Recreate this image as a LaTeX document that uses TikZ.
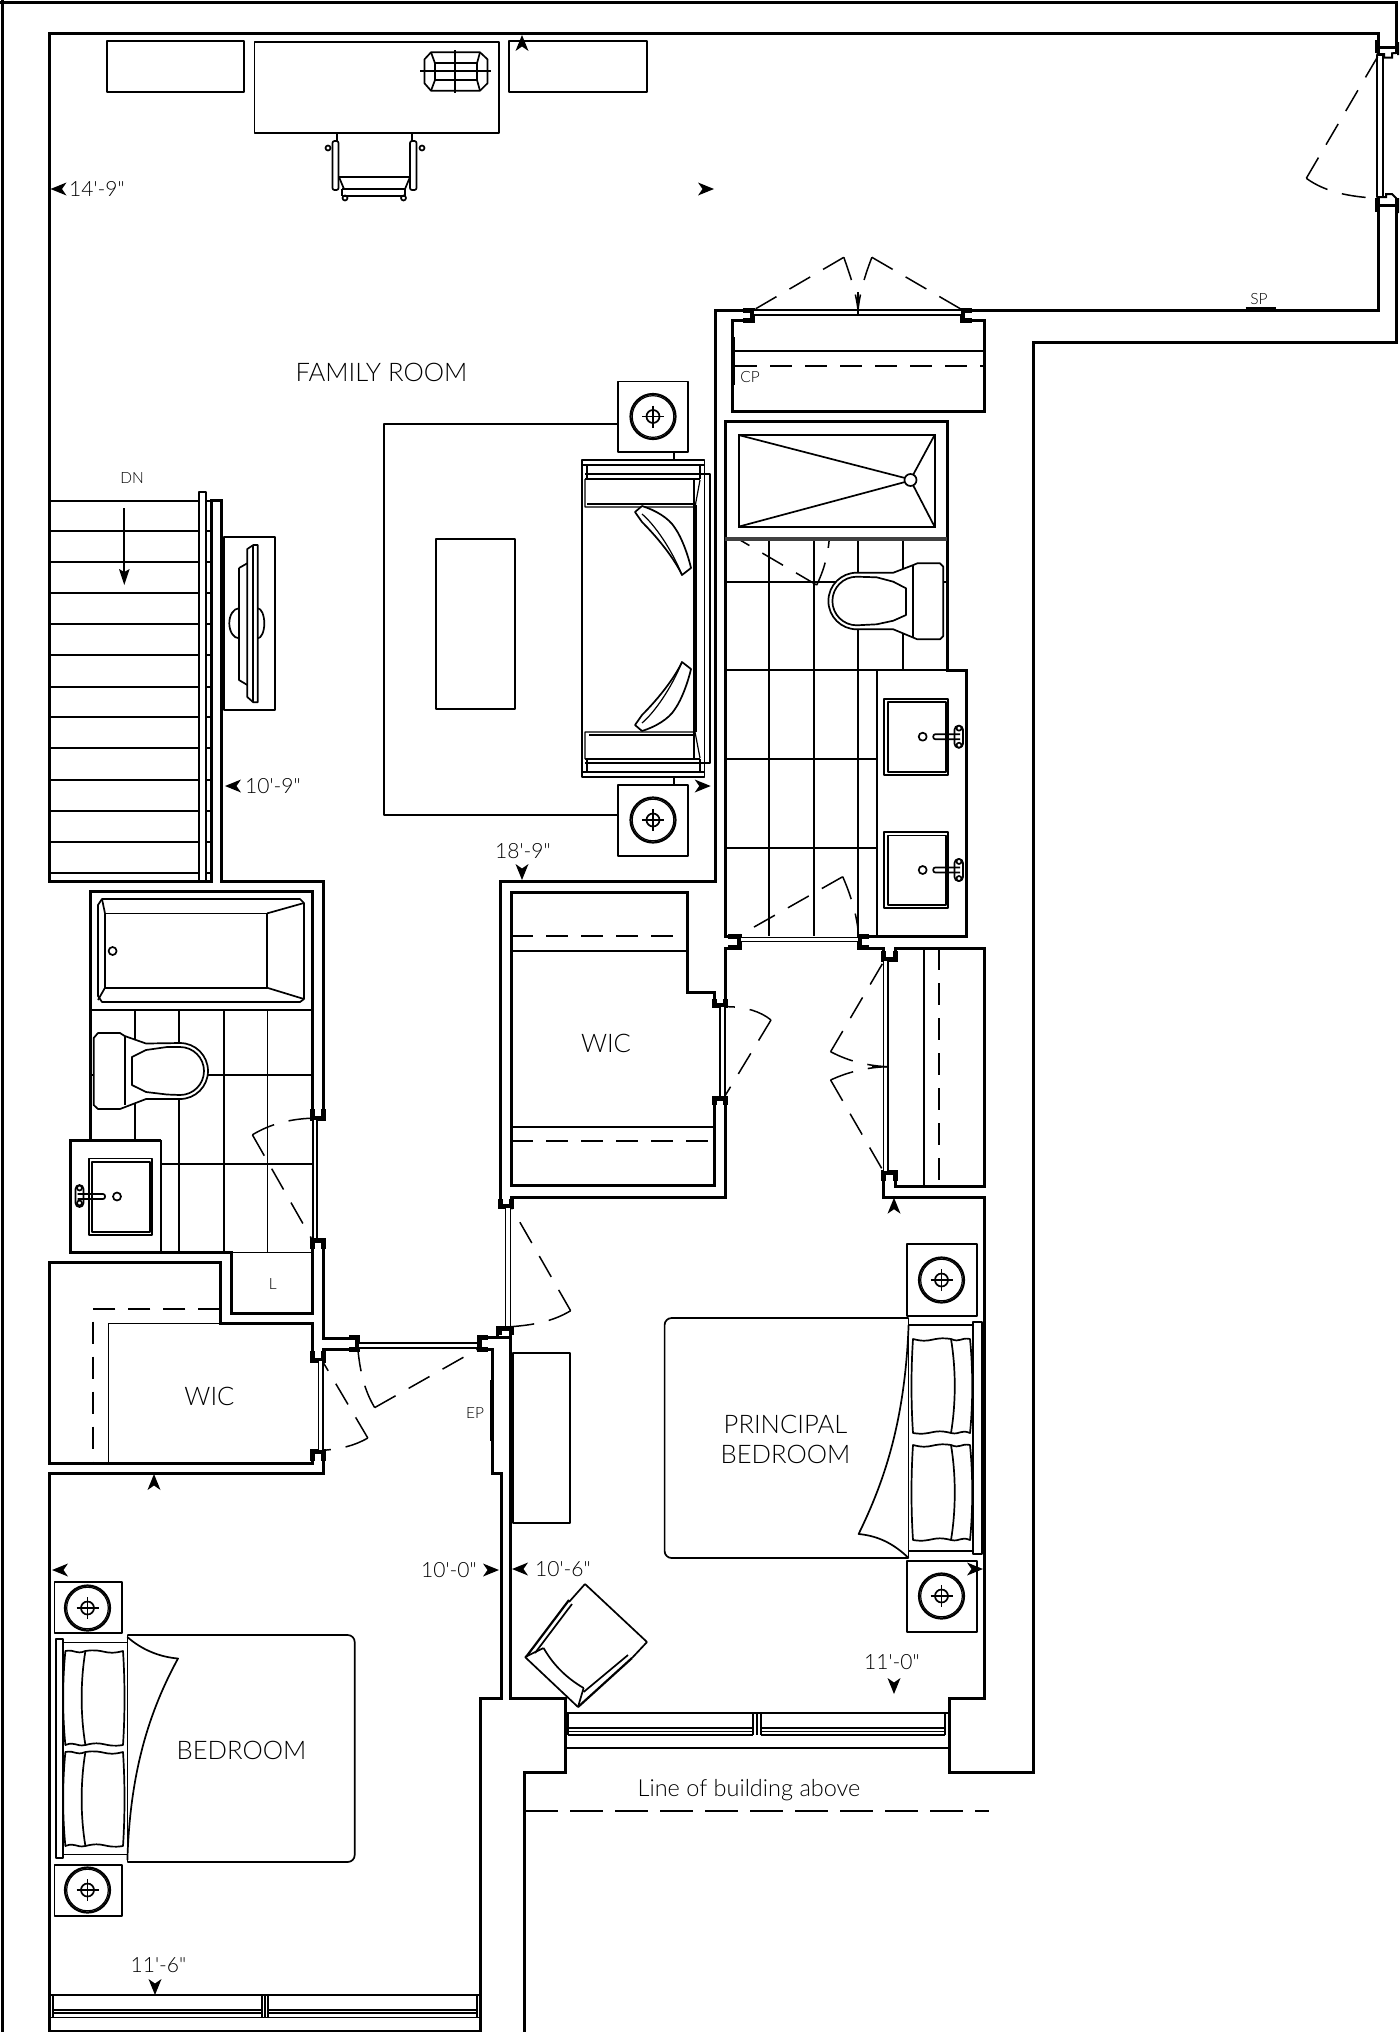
\documentclass[tikz,border=0pt]{standalone}
\usepackage{fontspec}
\newfontfamily\ltf{Lato}[UprightFont=* Light]
\tikzset{
 wall/.style={line width=3pt,line join=miter},
 jamb/.style={line width=5pt,line join=miter},
 fine/.style={line width=1.7pt,line join=round},
 thin/.style={line width=1.2pt,line join=round},
 dashline/.style={line width=1.5pt,dash pattern=on 22pt off 13pt},
 swing/.style={line width=1.5pt,dash pattern=on 24pt off 15pt},
 lbl/.style={inner sep=0pt,text=black,font=\ltf\fontsize{21}{21}\selectfont},
 lblwide/.style={inner sep=0pt,text=black,font=\ltf\fontsize{23.5}{23.5}\selectfont},
 room/.style={inner sep=0pt,text=black,align=center,font=\ltf\fontsize{25.6}{30}\selectfont},
 small/.style={inner sep=0pt,text=black,font=\ltf\fontsize{15.5}{15.5}\selectfont},
}
\newcommand\dimarrow[3]{\fill[shift={(#1,#2)},rotate=#3] (0,0)--(-16,-6.5)--(-11.5,0)--(-16,6.5)--cycle;}
\newcommand\sidetable[6]{%
 \draw[fine] (#1,#2) rectangle (#3,#4);
 \draw[line width=2.2pt] (#5,#6) circle (22.5);
 \draw[thin] (#5,#6) circle (20.8);
 \draw[fine] (#5,#6) circle (6.5);
 \draw[fine] ({#5-11},#6)--({#5+11},#6) (#5,{#6-11})--(#5,{#6+11});}
\newcommand\doorlines[4]{\draw[thin,fill=white] (#1,#2) rectangle (#3,#4);}
\newcommand\pillowpair[6]{%
 \draw[fine] (#1,#4) .. controls ({(#1+#2)/2},{#4+5}) and ({(#1+#2)/2},{#4-3}) .. (#2,#4)
  .. controls ({#2+#6*5},{#4+30}) and ({#2+#6*5},{#5-30}) .. (#2,#5)
  .. controls ({(#1+#2)/2},{#5-5}) and ({(#1+#2)/2},{#5+3}) .. (#1,#5)
  .. controls ({#1-#6*2},{#5-30}) and ({#1-#6*2},{#4+30}) .. (#1,#4) -- cycle;
 \draw[fine] (#2,#4) .. controls ({(#2+#3)/2},{#4+4}) and ({(#2+#3)/2},{#4-2}) .. (#3,#4)
  .. controls ({#3+#6*3},{#4+30}) and ({#3+#6*3},{#5-30}) .. (#3,#5)
  .. controls ({(#2+#3)/2},{#5-4}) and ({(#2+#3)/2},{#5+2}) .. (#2,#5);}
\newcommand\basin[3]{%
 \draw[fine] (884.3,#1) rectangle (948.3,#2);
 \draw[fine] (888.3,{#1+3.3}) rectangle (945.7,{#2-3.3});
 \draw[fine] (922.7,#3) circle (4);
 \draw[fine,rounded corners=2pt] (960,{#3-2.5})--(933.3,{#3-2.5})--(933.3,{#3+2.5})--(960,{#3+2.5});
 \draw[fine,rounded corners=4pt] (954.5,{#3-11}) rectangle (963,{#3+11});
 \draw[fine,fill=white] (959,{#3-8.5}) circle (2.5);
 \draw[fine,fill=white] (959,{#3+8.5}) circle (2.5);}
% door swing: drawn from the leaf's free corner, so that the corner shows
\newcommand\doorswing[8]{%
 \draw[swing] (#3,#4)--(#1,#2);
 \draw[swing] (#3,#4) .. controls (#5,#6) and (#7,#8) .. (#1,#2);}
\begin{document}
\begin{tikzpicture}[x=1pt,y=-1pt]
\useasboundingbox (0,0) rectangle (1400,2032);
\fill[white] (0,0) rectangle (1400,2032);
% ---------- floor tiles, upper bath
\draw[fine] (769.3,539)--(769.3,936) (814,539)--(814,936) (858,539)--(858,936) (902.7,539)--(902.7,670);
\draw[fine] (725,581.7)--(947,581.7) (725,670)--(947,670) (725,759)--(876.7,759) (725,848.3)--(876.7,848.3);
\draw[fine] (876.7,670)--(876.7,936);
% ---------- floor tiles, lower bath
\draw[fine] (135,1010)--(135,1140) (179,1010)--(179,1252.6) (224,1010)--(224,1252.6) (267.6,1010)--(267.6,1252.6);
\draw[fine] (90,1074.7)--(312.7,1074.7) (161,1163.7)--(312.7,1163.7) (90,1010)--(312.7,1010) (161,1140)--(161,1252.6);
\draw[wall] (90,1140)--(161,1140);
\draw[fine] (231.4,1252.6)--(312.7,1252.6);
% ---------- building outline
\draw[wall] (0,2)--(1396,2)--(1396,47)--(1378,47)--(1378,33)--(49,33)--(49,881.7)--(211.7,881.7)--(211.7,500)--(221.7,500)--(221.7,881)--(323,881)--(323,1110);
\draw[wall] (2,0)--(2,2032);
\draw[wall] (1378,205)--(1396,205)--(1396,342)--(1033,342)--(1033,1772)--(949,1772)--(949,1698)--(984.5,1698)--(984.5,1197)--(883,1197)--(883,1172)--(895,1172)--(895,1186)--(984.5,1186)--(984.5,948)--(895,948)--(895,960)--(883,960)--(883,948)--(859,948)--(859,936)--(966.5,936)--(966.5,670)--(947,670)--(947,421.7)--(725,421.7)--(725,936)--(740,936)--(740,948)--(725,948)--(725,1006)--(714,1006)--(714,992)--(687.6,992)--(687.6,892)--(511,892)--(511,1185)--(714,1185)--(714,1098)--(725,1098)--(725,1197)--(511,1197)--(511,1207)--(500,1207)--(500,881)--(715,881)--(715,310)--(753,310)--(753,320)--(732,320)--(732,411)--(984,411)--(984,320)--(962,320)--(962,310)--(1378,310)--(1378,205);
\draw[wall] (510,1327)--(510,1698)--(565.7,1698)--(565.7,1772)--(524.6,1772)--(524.6,2032);
\draw[wall] (510,1337)--(497.6,1337)--(497.6,1327)--(513,1327);
\draw[wall] (478,1337)--(497.6,1337) (478,1337)--(478,1349)--(492.5,1349)--(492.5,1473)--(501,1473)--(501,1698)--(480,1698)--(480,2032);
\draw[wall] (49,2031)--(480,2031);
\draw[wall] (323,1110)--(323,1118)--(312.7,1118) (323,1240)--(312.7,1240)--(312.7,1313)--(231.4,1313)--(231.4,1252.6)--(70.6,1252.6)--(70.6,1140)--(90,1140)--(90,891)--(312.7,891)--(312.7,1118);
\draw[wall] (323,1240)--(323,1338)--(358,1338)--(358,1349)--(323,1349)--(323,1360)--(312.7,1360)--(312.7,1323.4)--(220.4,1323.4)--(220.4,1262.5)--(49,1262.5)--(49,1463)--(312.7,1463)--(312.7,1451)--(323,1451)--(323,1473)--(49,1473)--(49,2032);
% jamb thickening
\draw[jamb] (312.7,1109)--(312.7,1118)--(323,1118)--(323,1109);
\draw[jamb] (312.7,1249)--(312.7,1240)--(323,1240)--(323,1249);
\draw[jamb] (312.7,1351)--(312.7,1360)--(323,1360)--(323,1351);
\draw[jamb] (312.7,1461)--(312.7,1451)--(323,1451)--(323,1461);
\draw[jamb] (349,1337.5)--(357,1337.5)--(357,1349)--(349,1349);
\draw[jamb] (488,1337.5)--(479,1337.5)--(479,1349)--(488,1349);
\draw[jamb] (499,1335)--(499,1328)--(511,1328)--(511,1335);
\draw[jamb] (500,1199)--(500,1206)--(511,1206)--(511,1199);
\draw[jamb] (714,999)--(714,1005.5)--(725,1005.5)--(725,999);
\draw[jamb] (714,1105)--(714,1098)--(725,1098)--(725,1105);
\draw[jamb] (728,936.5)--(739.5,936.5)--(739.5,947.5)--(728,947.5);
\draw[jamb] (869,936.5)--(859.5,936.5)--(859.5,947.5)--(869,947.5);
\draw[jamb] (883,951)--(883,959.5)--(895,959.5)--(895,951);
\draw[jamb] (883,1181)--(883,1172.5)--(895,1172.5)--(895,1181);
\draw[jamb] (743,310)--(752.5,310)--(752.5,320)--(743,320);
\draw[jamb] (972,310)--(962.5,310)--(962.5,320)--(972,320);
\draw[jamb] (1377,40)--(1377,53);
\draw[jamb] (1377,198)--(1377,212);
\draw[line width=2pt] (1376.7,54)--(1384,54)--(1384,57.7)--(1392,57.7)--(1392,53.3)--(1396,53)--(1396,47) (1398,42)--(1398,55);
\draw[line width=2pt] (1376.7,197)--(1386,197)--(1386,194)--(1392,194)--(1396,198)--(1396,205) (1376.7,205)--(1396,205) (1398,198)--(1398,213);
% ---------- door leaves
\doorlines{1377}{55}{1383}{197}
\doorlines{753}{310}{962}{315}
\doorlines{740}{937.5}{859}{941.5}
\doorlines{883.5}{960}{888}{1172}
\doorlines{720}{1006}{725}{1097}
\doorlines{505.8}{1207}{510.3}{1327}
\doorlines{313}{1119}{317}{1239}
\doorlines{318.5}{1360}{323}{1451}
\doorlines{358}{1343}{478}{1348}
% ---------- door swings
\draw[swing] (1306.3,178.3)--(1378.6,55);
\draw[swing] (1306.3,178.3) .. controls (1325,192) and (1350,197) .. (1378.6,198.3);
\draw[swing] (843.8,257.3)--(753.6,310);
\draw[swing] (843.8,257.3) .. controls (850,275) and (856,292) .. (858,310);
\draw[swing] (871.9,257.3)--(962.5,310);
\draw[swing] (871.9,257.3) .. controls (865,275) and (860,292) .. (858,310);
\draw[thin] (858,292)--(858,315);
\draw[swing] (816.7,585)--(738.3,539);
\draw[swing] (816.7,585) .. controls (824,570) and (828,555) .. (829.3,538.3);
\draw[swing] (842.7,876.7)--(740,935);
\draw[swing] (842.7,876.7) .. controls (850,893) and (857,915) .. (858.3,933);
\draw[swing] (830.6,1051.7)--(883.6,961.7);
\draw[swing] (830.6,1051.7) .. controls (850,1062) and (870,1066) .. (888,1066.7);
\draw[swing] (830.6,1080)--(883.6,1171.7);
\draw[swing] (830.6,1080) .. controls (850,1071) and (870,1067) .. (888,1066.7);
\draw[thin] (872,1066.7)--(888,1066.7);
\draw[swing] (771,1020)--(724.5,1096.7);
\draw[swing] (771,1020) .. controls (760,1011) and (745,1007) .. (728,1006.7);
\draw[swing] (570.6,1310.7)--(511,1206.7);
\draw[swing] (570.6,1310.7) .. controls (552,1322) and (532,1325) .. (511,1326.7);
\draw[swing] (252.4,1134.8)--(311.6,1238.8);
\draw[swing] (252.4,1134.8) .. controls (270,1124) and (290,1119) .. (311.6,1118.2);
\draw[swing] (367.8,1438)--(323,1362);
\draw[swing] (367.8,1438) .. controls (354,1446) and (340,1449) .. (323,1450.3);
\draw[swing] (374.7,1407.6)--(478,1349);
\draw[swing] (374.7,1407.6) .. controls (364,1390) and (360,1370) .. (358,1350.3);
% ---------- stairs
\foreach \ty in {500.7,530.7,562,593,624,655,686.7,717,748,780,810.7,841.7,873}{\draw[fine] (49,\ty)--(211,\ty);}
\draw[fine,fill=white] (199.3,491.7) rectangle (206,881);
\draw[fine] (124.3,508.3)--(124.3,575);
\fill (124.3,585)--(119,569)--(124.3,572)--(129.6,569)--cycle;
\node[small] (dn) at (132,478) {DN};
% ---------- TV
\draw[fine] (224.3,537.3) rectangle (275.3,709.7);
\draw[fine] (239,568)--(247.3,563.3) (239,568)--(239,680)--(247.3,685);
\draw[fine] (239,608.3) arc (270:90:9.7 and 15);
\draw[fine] (257.7,608.3) arc (-90:90:6.6 and 15);
\draw[fine] (247.3,549)--(253.3,545)--(257.7,545)--(257.7,702.3)--(253.3,702.3)--(247.3,697)--cycle;
\draw[fine] (253.3,545)--(253.3,702.3);
% ---------- work area
\draw[fine] (107,41) rectangle (244,92);
\draw[fine] (254.5,42) rectangle (499,133);
\draw[fine] (509,41) rectangle (647,92);
\draw[fine] (431,52.3)--(480,52.3)--(487.5,59.3)--(487.5,83.3)--(480,90.7)--(431,90.7)--(424.5,83.3)--(424.5,59.3)--cycle;
\draw[fine] (435,63.3) rectangle (477,80);
\draw[fine] (431,52.3)--(435,63.3) (480,52.3)--(477,63.3) (431,90.7)--(435,80) (480,90.7)--(477,80);
\draw[fine] (420,71)--(491,71) (455,50)--(455,93);
\draw[fine] (337,133)--(337,141) (412,133)--(412,141);
\draw[fine,rounded corners=2pt] (332.5,141) rectangle (338.5,190);
\draw[fine,rounded corners=2pt] (410,141) rectangle (416.5,190);
\draw[fine] (339,177)--(410,177) (339,177)--(344,189) (410,177)--(405,189);
\draw[line width=2.2pt] (342,189)--(405,189) (342,196)--(405,196);
\draw[fine] (342,189)--(342,196) (405,189)--(405,196);
\foreach \kx/\ky in {328/148,422/148,345/198,403.5/198}{\draw[fine] (\kx,\ky) circle (2.5);}
% ---------- rug, coffee table
\draw[fine] (618,424)--(384,424)--(384,815)--(618,815);
\draw[fine] (436,539) rectangle (515,709);
\sidetable{618}{381.5}{688}{452}{653}{416.5}
\sidetable{618}{785}{688}{856}{653}{820}
\draw[fine] (674,452)--(674,460) (674,777)--(674,785);
% ---------- sofa
\draw[fine] (582,460) rectangle (704.5,777);
\draw[thin] (704.5,474) rectangle (710,763);
\draw[thin] (582,465)--(704.5,465) (585,474)--(704.5,474) (585,479)--(700,479);
\draw[thin] (582,772)--(704.5,772) (585,763)--(704.5,763) (585,759)--(700,759);
\draw[thin] (587,465)--(587,479) (700,465)--(700,479) (587,759)--(587,772) (700,759)--(700,772);
\draw[thin] (694,479)--(694,759) (696,505)--(696,732);
\draw[thin] (585,479)--(585,507)--(695,507)--(700,480);
\draw[thin] (587,504)--(694,504);
\draw[thin] (585,759)--(585,732)--(695,732)--(700,758);
\draw[thin] (589,735)--(694,735);
\draw[fine,fill=white] (635,512)--(642,506) .. controls (655,510) and (669,518) .. (675,528) .. controls (682,538) and (688,555) .. (691,568)--(682,575) .. controls (675,560) and (660,540) .. (642,522)--cycle;
\draw[thin] (642,514) .. controls (655,525) and (672,550) .. (682,575);
\draw[fine,fill=white] (635,725)--(642,731) .. controls (655,727) and (669,719) .. (675,709) .. controls (682,699) and (688,682) .. (691,669)--(682,662) .. controls (675,677) and (660,697) .. (642,715)--cycle;
\draw[thin] (642,723) .. controls (655,712) and (672,687) .. (682,662);
% ---------- shower
\draw[line width=3.5pt,draw=black!75] (725,539)--(947,539);
\draw[line width=2pt] (738.5,435) rectangle (934.6,526.7);
\draw[fine] (738.5,435)--(905,478) (738.5,526.7)--(905,482) (934.6,435)--(913,475) (934.6,526.7)--(913,485);
\draw[fine] (910.5,480) circle (6);
% ---------- upper toilet
\draw[fine,fill=white] (913.3,565)--(917.3,563.3)--(940,563.3)--(943.3,566.7)--(943.3,636)--(940,639.3)--(917.3,639.3)--(893.3,629.3)--(856.7,629.3) arc (90:270:28.3)--(893.3,572.7)--cycle;
\draw[fine] (913.3,565)--(913.3,638);
\draw[fine] (856.7,576.7)--(876.7,577.3)--(893.3,581.7)--(906,588.3)--(906,615)--(893.3,620.7)--(876.7,624.3)--(856.7,625.3) arc (90:270:24.3);
% ---------- vanity with two basins
\basin{699}{775}{736.7}
\basin{832.3}{908.3}{870}
% ---------- closet CP
\draw[fine] (735,351)--(984,351);
\draw[dashline] (735,366)--(984,366);
\draw[line width=2pt] (734,337)--(734,385);
\node[small] (cp) at (750,377) {CP};
\draw[line width=2.5pt] (1245.5,308)--(1276,308);
\node[small] (sp) at (1259,299) {SP};
% ---------- WIC upper
\draw[dashline] (511,936)--(687.6,936);
\draw[fine] (511,950.7)--(687.6,950.7);
\draw[fine] (511,1126.7)--(714,1126.7);
\draw[dashline] (511,1141)--(714,1141);
% ---------- closet right
\draw[fine] (924,948)--(924,1186);
\draw[dashline] (939,948)--(939,1186);
% ---------- tub
\draw[fine] (98,905)--(102,899)--(300,899)--(304,903)--(304,999)--(300,1002)--(102,1002)--(98,996)--cycle;
\draw[fine] (105,913.4) rectangle (267,987.7);
\draw[fine] (102,899)--(105,913.4) (98,1000)--(105,987.7) (267,913.4)--(304,903) (267,987.7)--(304,999);
\draw[fine] (112.6,951) circle (4);
% ---------- lower toilet
\draw[fine,fill=white] (124.7,1036)--(120,1033)--(98,1033)--(93.7,1038)--(93.7,1105)--(98,1109)--(120,1109)--(146,1099)--(180,1099) arc (90:-90:28)--(146,1043.5)--cycle;
\draw[fine] (124.7,1036)--(124.7,1105);
\draw[fine] (180,1047)--(167,1047)--(146,1050)--(131.9,1057)--(131.9,1085)--(146,1092)--(167,1094.5)--(180,1095) arc (90:-90:24);
% ---------- lower basin
\draw[fine] (89,1158.5) rectangle (152,1235);
\draw[fine] (92.3,1161.7) rectangle (150,1231.7);
\draw[fine] (117,1196.5) circle (4);
\draw[fine,rounded corners=2pt] (77.5,1194)--(105,1194)--(105,1199)--(77.5,1199);
\draw[fine,rounded corners=4pt] (75.5,1185) rectangle (83.5,1207);
\draw[fine,fill=white] (79.5,1188) circle (2.5);
\draw[fine,fill=white] (79.5,1203) circle (2.5);
\node[small] (lclos) at (272.7,1284) {L};
% ---------- WIC lower
\draw[dashline] (220.4,1309)--(93,1309)--(93,1463);
\draw[fine] (220.4,1323.4)--(108.5,1323.4)--(108.5,1463);
% ---------- EP, dresser
\draw[line width=2.5pt] (491,1380)--(491,1441);
\node[small] (ep) at (475,1413) {EP};
\draw[fine] (513,1353) rectangle (570,1523);
% ---------- principal bed
\draw[fine,rounded corners=7pt] (908.6,1318)--(664.6,1318)--(664.6,1558)--(908.6,1558);
\draw[fine] (908.6,1318)--(908.6,1558);
\draw[fine] (908.6,1325)--(973,1325) (908.6,1551)--(973,1551);
\draw[fine] (973,1322) rectangle (982,1554);
\draw[fine] (908.6,1325) .. controls (905,1420) and (885,1480) .. (858.6,1534) .. controls (880,1536) and (895,1545) .. (908.6,1558);
\pillowpair{913}{951}{970}{1339}{1433}{1}
\pillowpair{913}{951}{970}{1445}{1540}{1}
\sidetable{907}{1244}{977}{1315.7}{941.5}{1280}
\sidetable{907}{1560.7}{977}{1632}{941.5}{1596}
% ---------- armchair
\draw[fine] (585,1584)--(647,1642) (647,1642)--(632,1658) (569,1602)--(585,1584);
\draw[fine] (525,1657)--(578,1707);
\draw[line width=2.2pt] (569,1600)--(526,1657) (632,1658)--(578,1707);
\draw[fine] (572,1604)--(535,1653) (628,1655)--(583.6,1692);
\draw[fine] (543.6,1648) .. controls (555,1668) and (570,1680) .. (583.6,1688);
\draw[fine] (525,1657)--(543.6,1648) (578,1707)--(583.6,1688);
% ---------- principal window
\draw[fine] (565.7,1712.7)--(948.6,1712.7) (565.7,1748)--(948.6,1748);
\draw[fine] (568,1712.7)--(568,1735) (945,1712.7)--(945,1735);
\draw[thin] (568,1728)--(753,1728) (761,1728)--(945,1728) (568,1731.5)--(753,1731.5) (761,1731.5)--(945,1731.5) (568,1735)--(753,1735) (761,1735)--(945,1735);
\draw[thin] (753,1712.7)--(753,1735) (757,1712.7)--(757,1735) (761,1712.7)--(761,1735);
% ---------- bedroom bed
\draw[fine,rounded corners=7pt] (127.4,1635)--(354.7,1635)--(354.7,1862)--(127.4,1862);
\draw[fine] (127.4,1635)--(127.4,1862);
\draw[fine] (63,1642.5)--(127.4,1642.5) (63,1854.6)--(127.4,1854.6);
\draw[fine] (55.8,1639) rectangle (63,1858);
\draw[fine] (127.4,1637) .. controls (142,1650) and (160,1657) .. (178,1658.5) .. controls (150,1710) and (130,1770) .. (127.4,1860);
\pillowpair{123}{85.4}{65.4}{1651}{1745}{-1}
\pillowpair{123}{85.4}{65.4}{1752}{1846}{-1}
\sidetable{54.4}{1582}{122}{1633}{87.5}{1608}
\sidetable{54.4}{1865}{122}{1916}{87.5}{1890}
% ---------- bedroom window
\draw[fine] (49,1995)--(480,1995) (49,2017.5)--(480,2017.5);
\draw[fine] (52.7,1995)--(52.7,2017.5) (477,1995)--(477,2017.5);
\draw[thin] (52.7,2010)--(262,2010) (268,2010)--(477,2010) (52.7,2013)--(262,2013) (268,2013)--(477,2013);
\draw[thin] (262,1995)--(262,2017.5) (265,1995)--(265,2017.5) (268,1995)--(268,2017.5);
% ---------- line of building above
\draw[line width=1.3pt,dash pattern=on 33pt off 12pt] (525,1811)--(989,1811);
\node[lblwide] (lba) at (749,1790) {Line of building above};
% ---------- room names
\node[room] (fam) at (381.5,372) {FAMILY ROOM};
\node[room] (wicu) at (606,1043) {WIC};
\node[room] (wicl) at (209.5,1396) {WIC};
\node[room] (prin) at (785.5,1439) {PRINCIPAL\\BEDROOM};
\node[room] (bedr) at (241.5,1750) {BEDROOM};
% ---------- dimensions
\node[lbl,anchor=west] (d1) at (69,189) {14'-9"};
\node[lbl,anchor=west] (d2) at (245,786) {10'-9"};
\node[lbl] (d3) at (523,851) {18'-9"};
\node[lbl,anchor=east] (d4) at (477,1570) {10'-0"};
\node[lbl,anchor=west] (d5) at (535,1569) {10'-6"};
\node[lbl] (d6) at (892,1662) {11'-0"};
\node[lbl] (d7) at (158.5,1965) {11'-6"};
\dimarrow{50.5}{189}{180}
\dimarrow{714}{189}{0}
\dimarrow{522}{35}{90}
\dimarrow{225}{786}{180}
\dimarrow{710.7}{786}{0}
\dimarrow{522}{880}{270}
\dimarrow{894}{1197.7}{90}
\dimarrow{154}{1474}{90}
\dimarrow{52}{1570}{180}
\dimarrow{499}{1570}{0}
\dimarrow{512}{1569}{180}
\dimarrow{983}{1569}{0}
\dimarrow{894}{1694}{270}
\dimarrow{155}{1995}{270}
\end{tikzpicture}
\end{document}
